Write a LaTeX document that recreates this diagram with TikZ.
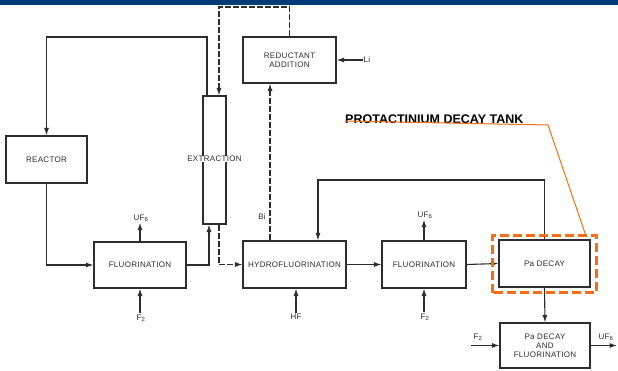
\documentclass[tikz,border=0pt]{standalone}
\usepackage{fontspec}
\setmainfont{Liberation Sans}
\newfontfamily\diafont[LetterSpace=4]{Liberation Sans}
\usetikzlibrary{arrows.meta}
\definecolor{banner}{RGB}{0,58,120}
\definecolor{ink}{RGB}{45,45,45}
\definecolor{hlorange}{RGB}{245,110,20}
\begin{document}
\begin{tikzpicture}[x=1pt,y=-1pt,
  box/.style={draw=ink,line width=1.1pt,inner sep=0pt,align=center,font=\diafont\fontsize{8}{9}\selectfont,text=ink},
  lbl/.style={inner sep=1pt,font=\diafont\fontsize{8}{9}\selectfont,text=ink},
  arr/.style={draw=ink,line width=1.1pt,-{Latex[length=7.5pt,width=5pt]}},
  darr/.style={arr,dash pattern=on 6pt off 2pt},
  hl/.style={draw=hlorange,line width=3.5pt,dash pattern=on 9pt off 4pt},
]
\useasboundingbox (0,0) rectangle (618,370);
\fill[white] (0,0) rectangle (618,370);
\fill[banner] (0,0) rectangle (618,5);

% boxes
\node[box,minimum width=81pt,minimum height=47pt] (reactor) at (46.5,159.5) {REACTOR};
\node[box,minimum width=23pt,minimum height=128pt] (ext) at (214.5,160) {};
\node[lbl,fill=white,inner sep=0.5pt] (extlbl) at (214.5,159) {EXTRACTION};
\node[box,minimum width=93pt,minimum height=46pt] (red) at (289.5,60) {REDUCTANT\\ADDITION};
\node[box,minimum width=92pt,minimum height=46pt] (f1) at (140,265) {FLUORINATION};
\node[box,minimum width=103pt,minimum height=47pt] (hf) at (294.5,264.5) {HYDROFLUORINATION};
\node[box,minimum width=84pt,minimum height=47pt] (f2) at (424,264.5) {FLUORINATION};
\node[box,minimum width=91pt,minimum height=47pt] (pad) at (544.5,263.5) {Pa DECAY};
\node[box,minimum width=90pt,minimum height=45pt] (padf) at (545,345.5) {Pa DECAY\\AND\\FLUORINATION};

% connectors around extraction
\coordinate (rtop) at (207,37);
\draw[arr] ([xshift=-7.5pt]ext.north) -- (rtop) -| (reactor.north);
\coordinate (dtop) at (219,7);
\draw[darr] (red.north) |- (dtop) -- ([xshift=4.5pt]ext.north);
\draw[arr] (reactor.south) |- (f1.west);
\draw[arr] (f1.east) -| ([xshift=-5.5pt]ext.south);
\draw[darr] ([xshift=4.5pt]ext.south) |- (hf.west);
\draw[darr] ([xshift=-24.5pt]hf.north) -- ([xshift=-19.5pt]red.south);

\node[lbl] (li) at (367,60) {Li};
\draw[arr] (li.west) -- (red.east);
\node[lbl] (bi) at (262,217) {Bi};

% feedback
\coordinate (fb) at (318,180);
\draw[arr] (pad.north) |- (fb) -- (fb |- hf.north);

\draw[arr] (hf.east) -- (f2.west);
\draw[arr] (f2.east) -- (pad.west);
\draw[arr] (pad.south) -- (padf.north);

% feeds
\node[lbl] (uf1) at (141,218) {UF\textsubscript{6}};
\draw[arr] (f1.north) -- (f1.north |- uf1.south);
\node[lbl] (ff1) at (141,318) {F\textsubscript{2}};
\draw[arr] (f1.south |- ff1.north) -- (f1.south);
\node[lbl] (hfl) at (296,317) {HF};
\draw[arr] (hfl.north) -- (hfl.north |- hf.south);
\node[lbl] (uf2) at (425,215) {UF\textsubscript{6}};
\draw[arr] (f2.north) -- (f2.north |- uf2.south);
\node[lbl] (ff2) at (425,317) {F\textsubscript{2}};
\draw[arr] (f2.south |- ff2.north) -- (f2.south);

\node[lbl] (ff3) at (478,337) {F\textsubscript{2}};
\coordinate (f3in) at (471,345.5);
\draw[arr] (f3in) -- (padf.west);
\node[lbl] (uf3) at (606,337) {UF\textsubscript{6}};
\coordinate (f3out) at (617,345.5);
\draw[arr] (padf.east) -- (f3out);

% highlight
\draw[hl] ([shift={(-6,5)}]pad.south west) rectangle ([shift={(6,-4)}]pad.north east);
\node[font=\bfseries\fontsize{12.5}{14}\selectfont,anchor=base west,inner sep=0pt] (tank) at (345,123) {PROTACTINIUM DECAY TANK};
\coordinate (c1) at (548,125);
\coordinate (c2) at (586,236);
\draw[hlorange,line width=1pt] ([yshift=2pt]tank.base west) -- (c1) -- (c2);
\end{tikzpicture}
\end{document}
